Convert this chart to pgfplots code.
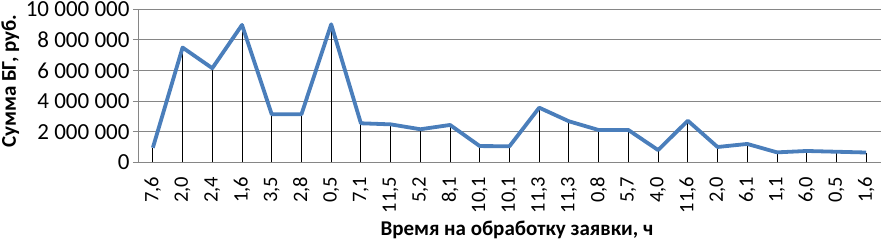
\documentclass[border=0pt]{standalone}
\usepackage{fontspec}
\setmainfont{Carlito}
\usepackage{pgfplots}
\pgfplotsset{compat=1.18}
\definecolor{linblue}{HTML}{4A7EBB}
\definecolor{gridgray}{HTML}{868686}
\pgfplotstableread{
x y
0 950000
1 7500000
2 6150000
3 8980000
4 3140000
5 3140000
6 9020000
7 2550000
8 2480000
9 2160000
10 2440000
11 1060000
12 1050000
13 3570000
14 2680000
15 2110000
16 2110000
17 800000
18 2720000
19 1000000
20 1200000
21 650000
22 740000
23 690000
24 640000
}\datatable
\begin{document}%
\begin{tikzpicture}
\begin{axis}[
  scale only axis,
  width=743bp, height=153bp,
  at={(138bp,79.7bp)}, anchor=south west,
  xmin=-0.5, xmax=24.5,
  ymin=0, ymax=10000000,
  xtick={0,...,24},
  xticklabels={{7,6},{2,0},{2,4},{1,6},{3,5},{2,8},{0,5},{7,1},{11,5},{5,2},{8,1},{10,1},{10,1},{11,3},{11,3},{0,8},{5,7},{4,0},{11,6},{2,0},{6,1},{1,1},{6,0},{0,5},{1,6}},
  ytick={0,2000000,4000000,6000000,8000000,10000000},
  yticklabels={0,2 000 000,4 000 000,6 000 000,8 000 000,10 000 000},
  scaled y ticks=false,
  ymajorgrids,
  grid style={gridgray, line width=0.9bp},
  axis line style={gridgray, line width=0.9bp},
  axis x line*=bottom,
  axis y line*=left,
  tick align=outside,
  major tick length=5bp,
  major x tick style={draw=none},
  major y tick style={gridgray, line width=0.9bp},
  yticklabel style={font=\fontsize{23bp}{26bp}\selectfont, anchor=east},
  xticklabel style={font=\fontsize{20.5bp}{24bp}\selectfont, yshift=-6bp, rotate=90, anchor=east},
  xlabel={Время на обработку заявки, ч},
  ylabel={Сумма БГ, руб.},
  label style={font=\fontsize{21bp}{24bp}\selectfont\bfseries},
  xlabel style={at={(axis description cs:0.51,-0.4425)}, anchor=center},
  ylabel style={at={(axis description cs:-0.172,0.53)}, anchor=center},
  clip=false,
]
\addplot[ycomb, black, line width=0.9bp, mark=none] table[x=x,y=y] {\datatable};
\addplot[linblue, line width=3.8bp, mark=none, line join=round] table[x=x,y=y] {\datatable};
\end{axis}
\pgfresetboundingbox
\path (0,0) rectangle (882bp,242bp);
\end{tikzpicture}%
\end{document}
